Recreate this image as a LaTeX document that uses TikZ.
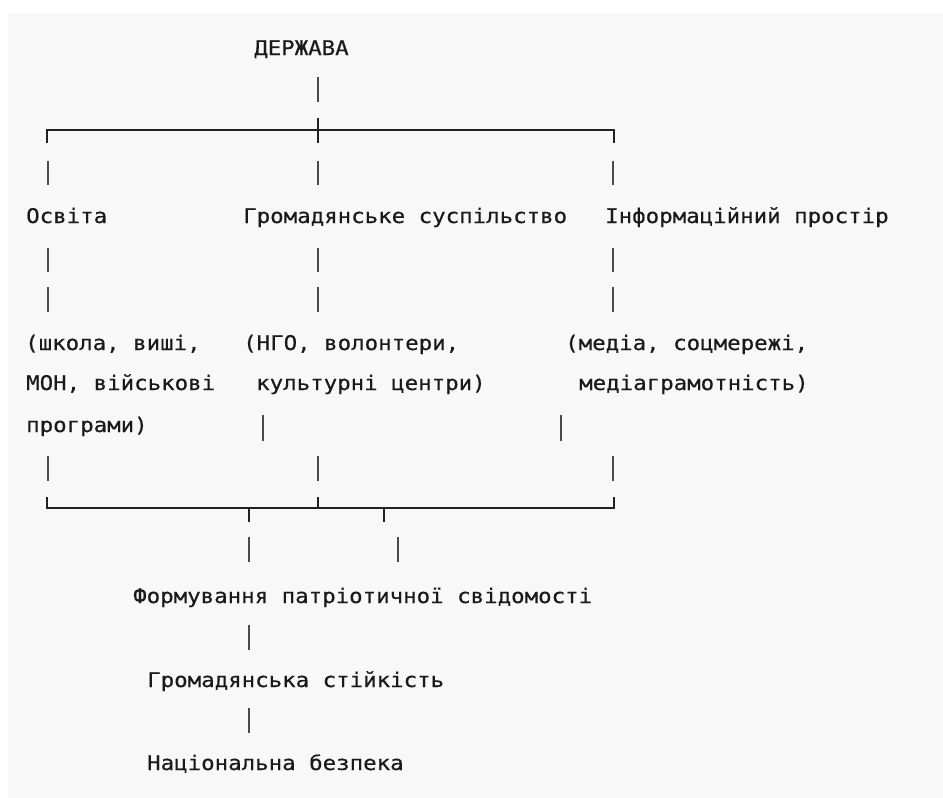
\documentclass[tikz,border=0pt]{standalone}
\usepackage{fontspec}
\newfontfamily\dmono[FakeStretch=1.11,FakeBold=0.4]{DejaVu Sans Mono}
\definecolor{panel}{HTML}{F8F8F8}
\definecolor{textc}{HTML}{1A1A1A}
\definecolor{barc}{HTML}{4A4A4A}
\definecolor{boxc}{HTML}{222222}
\begin{document}
\begin{tikzpicture}[x=1pt,y=-1pt,
  txt/.style={anchor=base west,inner sep=0pt,font=\dmono\fontsize{20.2}{24}\selectfont,text=textc},
  vbar/.style={draw=barc,line width=1.6pt},
  boxline/.style={draw=boxc,line width=1.8pt}]
\fill[white] (0,0) rectangle (943,798);
\fill[panel] (8,13) rectangle (943,798);
\useasboundingbox (0,0) rectangle (943,798);

% texts
\node[txt] (derzhava) at (254,55) {ДЕРЖАВА};
\node[txt] (osvita) at (26,223) {Освіта};
\node[txt] (hromsusp) at (243,223) {Громадянське суспільство};
\node[txt] (infoprostir) at (605,223) {Інформаційний простір};
\node[txt] (osvitaA) at (25,350) {(школа, виші,};
\node[txt] (hromA) at (243,350) {(НГО, волонтери,};
\node[txt] (infoA) at (565,350) {(медіа, соцмережі,};
\node[txt] (osvitaB) at (26,390) {МОН, військові};
\node[txt] (hromB) at (256,390) {культурні центри)};
\node[txt] (infoB) at (579,390) {медіаграмотність)};
\node[txt] (osvitaC) at (26,432) {програми)};
\node[txt] (formuv) at (133,603) {Формування патріотичної свідомості};
\node[txt] (stiik) at (147,687) {Громадянська стійкість};
\node[txt] (bezpeka) at (147,770) {Національна безпека};

% top bracket
\coordinate (tl) at (47,130);
\coordinate (tm) at (318,130);
\coordinate (tr) at (614,130);
\draw[boxline] (47,143) -- (tl) -- (tr) -- (614,143);
\draw[boxline] (318,118) -- (318,143);

% bottom bracket
\coordinate (bl) at (47,508);
\coordinate (bm) at (318,508);
\coordinate (br) at (614,508);
\draw[boxline] (47,497) -- (bl) -- (br) -- (614,497);
\draw[boxline] (318,497) -- (bm);
\draw[boxline] (249,508) -- (249,522);
\draw[boxline] (384,508) -- (384,522);

% vertical bar glyphs
\draw[vbar] (318,77) -- (318,102);
\foreach \yy/\zz in {161/185, 248/272, 287/312, 456/481}{
  \draw[vbar] (48,\yy) -- (48,\zz);
  \draw[vbar] (318,\yy) -- (318,\zz);
  \draw[vbar] (613,\yy) -- (613,\zz);
}
\draw[vbar] (263,415) -- (263,441);
\draw[vbar] (561,415) -- (561,441);
\draw[vbar] (249,537) -- (249,562);
\draw[vbar] (398,537) -- (398,562);
\draw[vbar] (249,625) -- (249,650);
\draw[vbar] (249,708) -- (249,733);
\end{tikzpicture}
\end{document}
